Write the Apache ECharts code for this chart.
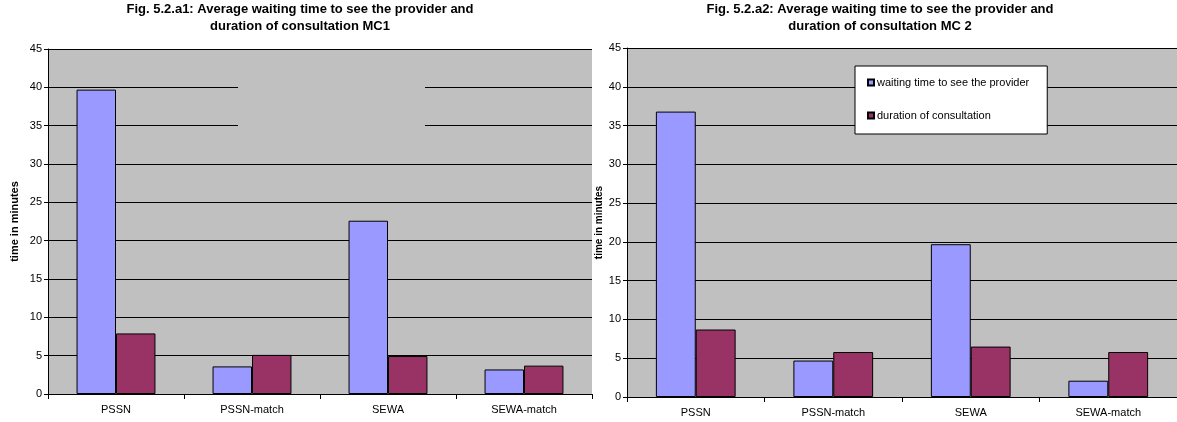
<!DOCTYPE html>
<html>
<head>
<meta charset="utf-8">
<script src="https://cdn.jsdelivr.net/npm/echarts@6/dist/echarts.min.js"></script>
<style>
  html, body { margin: 0; padding: 0; background: #fff; }
  #chart { width: 1177px; height: 422px; }
</style>
</head>
<body>
<div id="chart"></div>
<script>
// Categories shared by both panels
const categories = ['PSSN', 'PSSN-match', 'SEWA', 'SEWA-match'];

// MC1 panel (minutes)
const mc1Waiting = [39.7, 3.6, 22.6, 3.2];
const mc1Consult = [7.9, 5.1, 4.95, 3.7];

// MC 2 panel (minutes)
const mc2Waiting = [36.8, 4.7, 19.7, 2.1];
const mc2Consult = [8.7, 5.8, 6.5, 5.8];

const seriesNames = ['waiting time to see the provider', 'duration of consultation'];
const titles = [
  'Fig. 5.2.a1: Average waiting time to see the provider and\nduration of consultation MC1',
  'Fig. 5.2.a2: Average waiting time to see the provider and\nduration of consultation MC 2'
];
const yTicks = { min: 0, max: 45, interval: 5 };
const yName = 'time in minutes';

const FONT = "'Liberation Sans', Arial, sans-serif";
const BLUE = '#9999FF';
const PLUM = '#993366';
const PLOT_BG = '#C0C0C0';

function xAxis(gridIndex) {
  return {
    type: 'category',
    gridIndex,
    data: categories,
    axisLine: { lineStyle: { color: '#000', width: 1 } },
    axisTick: { show: true, alignWithLabel: false, length: 5, lineStyle: { color: '#000' } },
    axisLabel: { color: '#000', fontFamily: FONT, fontSize: 11, margin: 10 },
    splitLine: { show: false }
  };
}

function yAxis(gridIndex, nameGap, nameSize) {
  return {
    type: 'value',
    gridIndex,
    min: yTicks.min,
    max: yTicks.max,
    interval: yTicks.interval,
    name: yName,
    nameLocation: 'middle',
    nameGap,
    nameTextStyle: { color: '#000', fontFamily: FONT, fontSize: nameSize, fontWeight: 'bold' },
    axisLine: { show: true, lineStyle: { color: '#000', width: 1 } },
    axisTick: { show: true, length: 4, lineStyle: { color: '#000' } },
    axisLabel: { color: '#000', fontFamily: FONT, fontSize: 11, margin: 6 },
    splitLine: { show: true, lineStyle: { color: '#000', width: 1 } }
  };
}

function barSeries(name, data, color, idx) {
  return {
    type: 'bar',
    name,
    data,
    xAxisIndex: idx,
    yAxisIndex: idx,
    barGap: '0%',
    barCategoryGap: '42%',
    itemStyle: { color, borderColor: '#000', borderWidth: 1 },
    emphasis: { disabled: true },
    animation: false
  };
}

const titleStyle = { fontFamily: FONT, fontSize: 13, fontWeight: 'bold', color: '#000', lineHeight: 17 };

const chart = echarts.init(document.getElementById('chart'), null, { renderer: 'canvas' });

chart.setOption({
  backgroundColor: '#fff',
  animation: false,
  title: [
    { text: titles[0], left: 300, top: 1, padding: 0, textAlign: 'center', textStyle: titleStyle },
    { text: titles[1], left: 880, top: 1, padding: 0, textAlign: 'center', textStyle: titleStyle }
  ],
  legend: {
    data: seriesNames,
    orient: 'vertical',
    left: 855,
    top: 66,
    backgroundColor: '#fff',
    borderColor: '#000',
    borderWidth: 1,
    borderRadius: 0,
    padding: [11, 18, 13, 12],
    itemGap: 22,
    itemWidth: 6,
    itemHeight: 6,
    icon: 'rect',
    selectedMode: false,
    textStyle: { fontFamily: FONT, fontSize: 11, color: '#000', padding: [0, 0, 0, -2] }
  },
  grid: [
    { left: 48, top: 49, width: 544, height: 345, show: true, backgroundColor: PLOT_BG, borderWidth: 0, containLabel: false },
    { left: 627, top: 48, width: 556, height: 349, show: true, backgroundColor: PLOT_BG, borderWidth: 0, containLabel: false }
  ],
  xAxis: [xAxis(0), xAxis(1)],
  yAxis: [yAxis(0, 28, 11), yAxis(1, 23, 10)],
  series: [
    barSeries(seriesNames[0], mc1Waiting, BLUE, 0),
    barSeries(seriesNames[1], mc1Consult, PLUM, 0),
    barSeries(seriesNames[0], mc2Waiting, BLUE, 1),
    barSeries(seriesNames[1], mc2Consult, PLUM, 1)
  ],
  graphic: [
    {
      // empty legend area of the MC1 panel: plain plot fill over the gridlines
      type: 'rect',
      z: 50,
      shape: { x: 238, y: 66, width: 187, height: 69 },
      style: { fill: PLOT_BG }
    }
  ]
});
</script>
</body>
</html>
